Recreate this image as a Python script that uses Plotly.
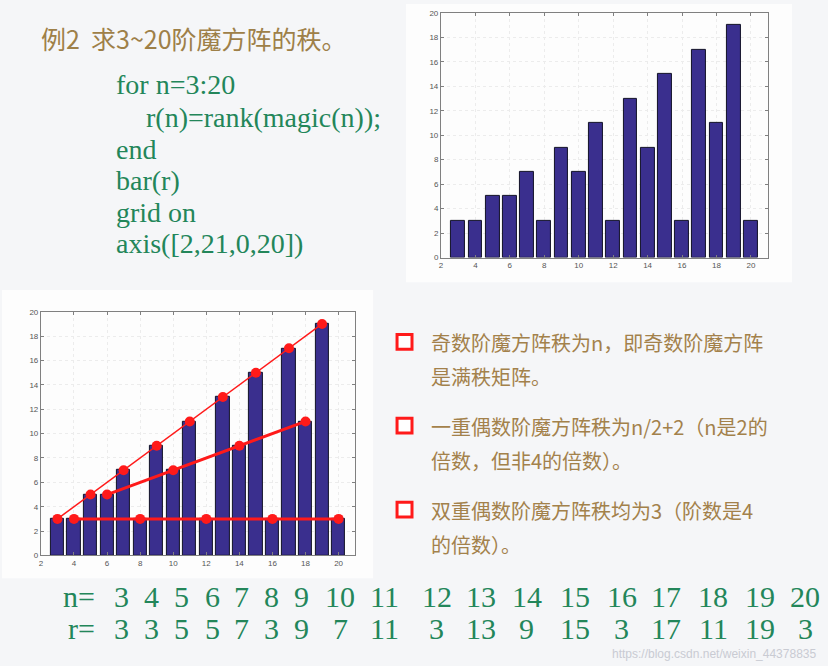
import plotly.graph_objects as go

W, H = 828, 666

# data
n_vals = [3, 4, 5, 6, 7, 8, 9, 10, 11, 12, 13, 14, 15, 16, 17, 18, 19, 20]
r_vals = [3, 3, 5, 5, 7, 3, 9, 7, 11, 3, 13, 9, 15, 3, 17, 11, 19, 3]
x_ticks = [2, 4, 6, 8, 10, 12, 14, 16, 18, 20]
y_ticks = [0, 2, 4, 6, 8, 10, 12, 14, 16, 18, 20]

# groups for the red lines in the lower chart
odd_n = [n for n in n_vals if n % 2 == 1]
odd_r = [r for n, r in zip(n_vals, r_vals) if n % 2 == 1]
single_n = [n for n in n_vals if n % 2 == 0 and n % 4 != 0]
single_r = [r for n, r in zip(n_vals, r_vals) if n % 2 == 0 and n % 4 != 0]
double_n = [n for n in n_vals if n % 4 == 0]
double_r = [r for n, r in zip(n_vals, r_vals) if n % 4 == 0]

title_txt = "例2  求3~20阶魔方阵的秩。"
code_lines = ["for n=3:20", "r(n)=rank(magic(n));", "end", "bar(r)", "grid on", "axis([2,21,0,20])"]
bullet_lines = [
    ["奇数阶魔方阵秩为n，即奇数阶魔方阵", "是满秩矩阵。"],
    ["一重偶数阶魔方阵秩为n/2+2（n是2的", "倍数，但非4的倍数）。"],
    ["双重偶数阶魔方阵秩均为3（阶数是4", "的倍数）。"],
]
n_cols_x = [120, 150, 180, 211, 240, 270, 300, 339, 383, 436, 480, 526, 574, 621, 666, 713, 760, 805]

BAR = "#3a2f8e"
RED = "#ff1a1a"
GREEN = "#23865a"
BROWN = "#a3814b"


def px(x):
    return x / W


def py(y):
    return 1 - y / H


fig = go.Figure()

for xa, ya in [("x", "y"), ("x2", "y2")]:
    fig.add_trace(go.Bar(x=n_vals, y=r_vals, xaxis=xa, yaxis=ya, width=0.8,
                         marker=dict(color=BAR, line=dict(color="#111126", width=1)),
                         showlegend=False, hoverinfo="x+y"))

fig.add_trace(go.Scatter(x=odd_n, y=odd_r, xaxis="x2", yaxis="y2", mode="lines+markers",
                         line=dict(color=RED, width=1.5), marker=dict(color=RED, size=10),
                         showlegend=False))
fig.add_trace(go.Scatter(x=single_n, y=single_r, xaxis="x2", yaxis="y2", mode="lines+markers",
                         line=dict(color=RED, width=3), marker=dict(color=RED, size=10),
                         showlegend=False))
fig.add_trace(go.Scatter(x=double_n, y=double_r, xaxis="x2", yaxis="y2", mode="lines+markers",
                         line=dict(color=RED, width=3), marker=dict(color=RED, size=10),
                         showlegend=False))

ax_common = dict(showline=True, linecolor="#808080", linewidth=1, mirror="ticks",
                 ticks="inside", ticklen=3, tickcolor="#808080",
                 showgrid=True, gridcolor="#ececec", griddash="dot", gridwidth=1,
                 zeroline=False, tickfont=dict(family="Liberation Sans", size=8, color="#555"))

fig.update_layout(
    width=W, height=H, margin=dict(l=0, r=0, t=0, b=0),
    paper_bgcolor="#f5f6f8", plot_bgcolor="white",
    bargap=0,
    xaxis=dict(domain=[px(440), px(768)], range=[2, 21], tickvals=x_ticks, anchor="y", **ax_common),
    yaxis=dict(domain=[py(257), py(9)], range=[0, 20], tickvals=y_ticks, anchor="x", **ax_common),
    xaxis2=dict(domain=[px(39), px(354)], range=[2, 21], tickvals=x_ticks, anchor="y2", **ax_common),
    yaxis2=dict(domain=[py(559), py(312)], range=[0, 20], tickvals=y_ticks, anchor="x2", **ax_common),
)

shapes = [
    # white figure panels behind the two charts
    dict(type="rect", xref="paper", yref="paper", x0=px(405), x1=px(792), y0=py(282), y1=py(0),
         fillcolor="#fdfdfd", line=dict(width=0), layer="below"),
    dict(type="rect", xref="paper", yref="paper", x0=px(0), x1=px(372), y0=py(582), y1=py(290),
         fillcolor="#fdfdfd", line=dict(width=0), layer="below"),
]
annotations = []

annotations.append(dict(x=px(37), y=py(34), xref="paper", yref="paper", text=title_txt,
                        showarrow=False, xanchor="left", yanchor="middle",
                        font=dict(family="Noto Sans CJK SC", size=25, color="#9e8048")))

code_y = [82, 115, 147, 179, 211, 243]
for i, (line, yy) in enumerate(zip(code_lines, code_y)):
    x0 = 142 if i == 1 else 112
    annotations.append(dict(x=px(x0), y=py(yy), xref="paper", yref="paper", text=line,
                            showarrow=False, xanchor="left", yanchor="middle",
                            font=dict(family="Liberation Serif", size=28, color=GREEN)))

bullet_y = [343, 428, 513]
for lines, yy in zip(bullet_lines, bullet_y):
    shapes.append(dict(type="rect", xref="paper", yref="paper",
                       x0=px(396), x1=px(411), y0=py(yy + 7), y1=py(yy - 8),
                       fillcolor="white", line=dict(color=RED, width=3)))
    for k, t in enumerate(lines):
        annotations.append(dict(x=px(428), y=py(yy + 35 * k), xref="paper", yref="paper", text=t,
                                showarrow=False, xanchor="left", yanchor="middle",
                                font=dict(family="Noto Sans CJK SC", size=20, color=BROWN)))

for label, vals, yy in [("n=", n_vals, 601), ("r=", r_vals, 633)]:
    annotations.append(dict(x=px(95), y=py(yy), xref="paper", yref="paper", text=label,
                            showarrow=False, xanchor="right", yanchor="middle",
                            font=dict(family="Liberation Serif", size=30, color=GREEN)))
    for xx, v in zip(n_cols_x, vals):
        annotations.append(dict(x=px(xx), y=py(yy), xref="paper", yref="paper", text=str(v),
                                showarrow=False, xanchor="center", yanchor="middle",
                                font=dict(family="Liberation Serif", size=30, color=GREEN)))

annotations.append(dict(x=px(818), y=py(659), xref="paper", yref="paper",
                        text="https://blog.csdn.net/weixin_44378835",
                        showarrow=False, xanchor="right", yanchor="middle",
                        font=dict(family="Liberation Sans Narrow, Liberation Sans", size=12, color="#c9cbd3")))

fig.update_layout(shapes=shapes, annotations=annotations)

# the page body has a default 8px margin; drop it so the figure fills the window
fig.write_html("out.html", config={"displayModeBar": False},
               post_script="document.body.style.margin='0';")
